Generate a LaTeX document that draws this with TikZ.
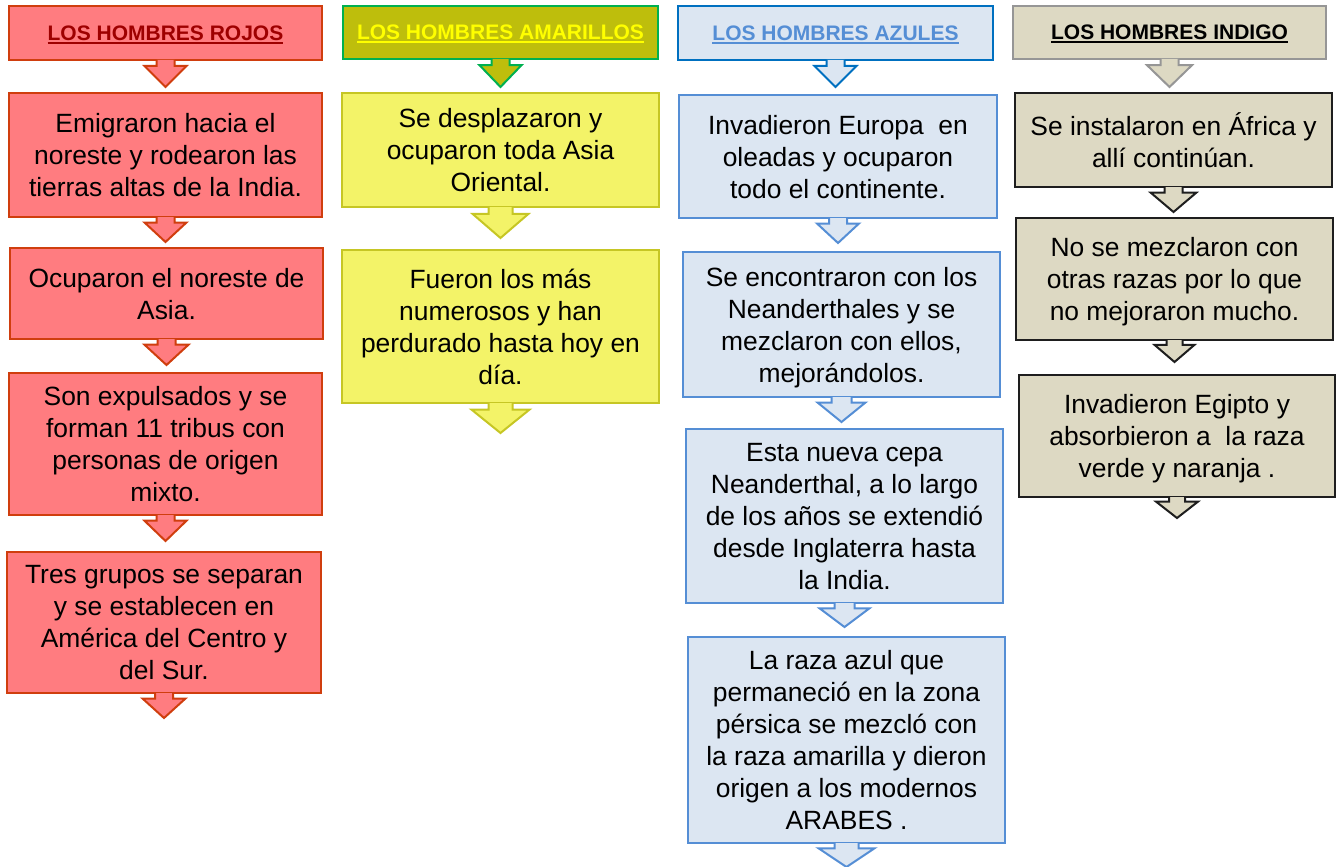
\documentclass[tikz,border=0pt]{standalone}
\usepackage{fontspec}
\setmainfont{Liberation Sans}
\definecolor{redfill}{RGB}{255,124,128}
\definecolor{redline}{RGB}{208,62,14}
\definecolor{redtext}{RGB}{158,0,0}
\definecolor{yhfill}{RGB}{190,190,12}
\definecolor{yhline}{RGB}{0,176,80}
\definecolor{yhtext}{RGB}{255,255,0}
\definecolor{yfill}{RGB}{243,243,104}
\definecolor{yline}{RGB}{198,198,36}
\definecolor{bfill}{RGB}{220,230,242}
\definecolor{bhline}{RGB}{0,112,192}
\definecolor{bline}{RGB}{85,142,213}
\definecolor{btext}{RGB}{85,142,213}
\definecolor{ifill}{RGB}{221,217,195}
\definecolor{ihline}{RGB}{150,150,150}
\definecolor{iline}{RGB}{30,30,30}
\newcommand\myul[1]{\setbox0\hbox{#1}\rlap{\rule[-3.4pt]{\wd0}{1.8pt}}\box0}
\newcommand\blockarrow[5][]{\filldraw[#1] ([xshift=-#5pt]#2.south) -- ++(0,{0.22*#3}) -- ++({-(#4-#5)},0) -- ++(#4,{0.78*#3}) -- ++(#4,{-0.78*#3}) -- ++({-(#4-#5)},0) -- ++(0,{-0.22*#3});}
\tikzset{
  base/.style={draw, line width=2pt, inner sep=0pt, outer sep=0pt, align=center, text depth=0pt},
  body/.style={base, font=\fontsize{26.4}{32}\selectfont},
  head/.style={base, font=\fontsize{21}{25}\selectfont\bfseries},
  sz/.style 2 args={minimum width=#1pt, minimum height=#2pt},
  redbox/.style={body, fill=redfill, draw=redline},
  redhead/.style={head, fill=redfill, draw=redline, text=redtext},
  redarr/.style={fill=redfill, draw=redline, line width=2pt, line join=miter},
  ybox/.style={body, fill=yfill, draw=yline},
  yhead/.style={head, fill=yhfill, draw=yhline, text=yhtext},
  yharr/.style={fill=yhfill, draw=yhline, line width=2pt, line join=miter},
  yarr/.style={fill=yfill, draw=yline, line width=2pt, line join=miter},
  bbox/.style={body, fill=bfill, draw=bline},
  bhead/.style={head, fill=bfill, draw=bhline, text=btext},
  bharr/.style={fill=bfill, draw=bhline, line width=2pt, line join=miter},
  barr/.style={fill=bfill, draw=bline, line width=2pt, line join=miter},
  ibox/.style={body, fill=ifill, draw=iline},
  ihead/.style={head, fill=ifill, draw=ihline, text=black},
  iharr/.style={fill=ifill, draw=ihline, line width=2pt, line join=miter},
  iarr/.style={fill=ifill, draw=iline, line width=2pt, line join=miter},
}
\begin{document}
\begin{tikzpicture}[x=1pt,y=-1pt]
\useasboundingbox (0,0) rectangle (1336,867);
% red column
\node[redhead, sz={313}{54}] (rh) at (165.5,33) {\myul{LOS HOMBRES ROJOS}};
\node[redbox, sz={313}{124}] (r1) at (165.5,155) {Emigraron hacia el\\noreste y rodearon las\\tierras altas de la India.};
\node[redbox, sz={313}{91}] (r2) at (166.5,293.5) {Ocuparon el noreste de\\Asia.};
\node[redbox, sz={313}{142}] (r3) at (165.5,444) {Son expulsados y se\\forman 11 tribus con\\personas de origen\\mixto.};
\node[redbox, sz={314}{141}] (r4) at (164,622.5) {Tres grupos se separan\\y se establecen en\\América del Centro y\\del Sur.};
\blockarrow[redarr]{rh}{27}{21}{9}
\blockarrow[redarr]{r1}{25}{21}{9}
\blockarrow[redarr]{r2}{26}{22}{9}
\blockarrow[redarr]{r3}{26}{21}{9}
\blockarrow[redarr]{r4}{25}{21.5}{9}
% yellow column
\node[yhead, sz={315}{53}] (yh) at (500.5,32.5) {\myul{LOS HOMBRES AMARILLOS}};
\node[ybox, sz={317}{114}] (y1) at (500.5,150) {Se desplazaron y\\ocuparon toda Asia\\Oriental.};
\node[ybox, sz={317}{153}] (y2) at (500.5,326.5) {Fueron los más\\numerosos y han\\perdurado hasta hoy en\\día.};
\blockarrow[yharr]{yh}{28}{21}{9}
\blockarrow[yarr]{y1}{31}{28}{12}
\blockarrow[yarr]{y2}{30}{29}{12}
% blue column
\node[bhead, sz={315}{54}] (bh) at (835.5,33) {\myul{LOS HOMBRES AZULES}};
\node[bbox, sz={318}{123}] (b1) at (838,156.5) {Invadieron Europa~ en\\oleadas y ocuparon\\todo el continente.};
\node[bbox, sz={317}{145}] (b2) at (841.5,324.5) {Se encontraron con los\\Neanderthales y se\\mezclaron con ellos,\\mejorándolos.};
\node[bbox, sz={317}{174}] (b3) at (844.5,516) {Esta nueva cepa\\Neanderthal, a lo largo\\de los años se extendió\\desde Inglaterra hasta\\la India.};
\node[bbox, sz={317}{206}] (b4) at (846.5,740) {La raza azul que\\permaneció en la zona\\pérsica se mezcló con\\la raza amarilla y dieron\\origen a los modernos\\ARABES .};
\blockarrow[bharr]{bh}{27}{21}{9}
\blockarrow[barr]{b1}{25}{21}{9}
\blockarrow[barr]{b2}{25}{24}{10}
\blockarrow[barr]{b3}{24}{25}{10}
\blockarrow[barr]{b4}{24}{28}{12}
% indigo column
\node[ihead, sz={313}{53}] (ih) at (1169.5,32.5) {\myul{LOS HOMBRES INDIGO}};
\node[ibox, sz={317}{94}] (i1) at (1173.5,140) {Se instalaron en África y\\allí continúan.};
\node[ibox, sz={317}{122}] (i2) at (1174.5,279) {No se mezclaron con\\otras razas por lo que\\no mejoraron mucho.};
\node[ibox, sz={316}{122}] (i3) at (1177,436) {Invadieron Egipto y\\absorbieron a~ la raza\\verde y naranja .};
\blockarrow[iharr]{ih}{28}{22.5}{9}
\blockarrow[iarr]{i1}{25}{23}{9}
\blockarrow[iarr]{i2}{22}{20}{8}
\blockarrow[iarr]{i3}{21}{21}{8}
\end{tikzpicture}
\end{document}
